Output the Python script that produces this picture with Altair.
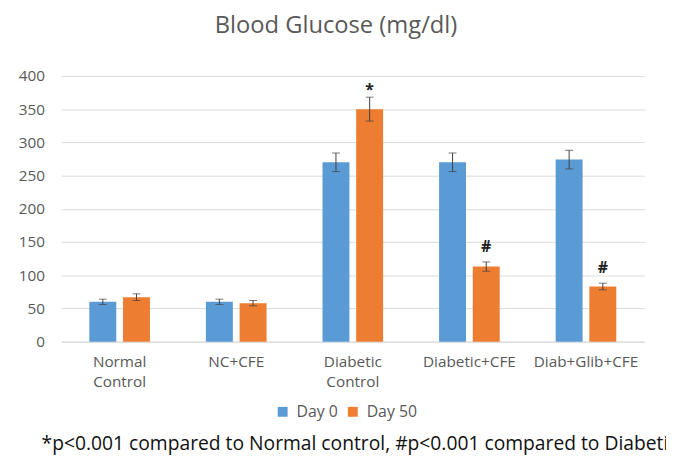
import altair as alt
import pandas as pd

groups = ["Normal\nControl", "NC+CFE", "Diabetic\nControl", "Diabetic+CFE", "Diab+Glib+CFE"]
day0 = [60, 60, 270, 270, 274]
day0_err = [4, 4, 14, 14, 14]
day50 = [67, 58, 350, 113, 83]
day50_err = [5, 4, 18, 7, 5]
marks50 = ["", "", "*", "#", "#"]
series = ["Day 0", "Day 50"]

rows = []
for i, g in enumerate(groups):
    rows.append(dict(group=g, series="Day 0", value=day0[i], err=day0_err[i], mark=""))
    rows.append(dict(group=g, series="Day 50", value=day50[i], err=day50_err[i], mark=marks50[i]))
df = pd.DataFrame(rows)
df["lo"] = df["value"] - df["err"]
df["hi"] = df["value"] + df["err"]

FONT = "Open Sans"
W, H = 590, 269
GRAY = "#595959"

x = alt.X("group:N", sort=groups, title=None,
          scale=alt.Scale(paddingInner=0.48, paddingOuter=0.24),
          axis=alt.Axis(labelExpr="split(datum.label, '\\n')", labelAngle=0,
                        labelPadding=13, ticks=False, domainColor="#d9d9d9", grid=False,
                        labelColor=GRAY, labelFontSize=15.5, labelFont=FONT,
                        labelLineHeight=20))
xo = alt.XOffset("series:N", sort=series, scale=alt.Scale(paddingInner=0.2))

yaxis = alt.Axis(values=list(range(0, 401, 50)), domain=False, ticks=False, grid=True,
                 gridColor="#d9d9d9", labelColor=GRAY, labelFontSize=15.5,
                 labelFont=FONT, labelPadding=17)
yscale = alt.Scale(domain=[0, 400])


def Y(field):
    return alt.Y(field, title=None, scale=yscale, axis=yaxis)


base = alt.Chart(df)

bars = base.mark_bar().encode(
    x=x, xOffset=xo, y=Y("value:Q"),
    color=alt.Color("series:N", sort=series,
                    scale=alt.Scale(domain=series, range=["#5B9BD5", "#ED7D31"]),
                    legend=alt.Legend(orient="none", legendX=216, legendY=332,
                                      direction="horizontal", title=None, symbolType="square",
                                      symbolSize=100, labelFont=FONT, labelFontSize=16,
                                      labelColor=GRAY, columnPadding=7,
                                      symbolStrokeWidth=0, labelOffset=6)),
)

errs = base.mark_rule(color="#404040", strokeWidth=1).encode(
    x=x, xOffset=xo, y=Y("lo:Q"), y2="hi:Q")
caps_hi = base.mark_tick(color="#404040", thickness=1, size=8).encode(
    x=x, xOffset=xo, y=Y("hi:Q"))
caps_lo = base.mark_tick(color="#404040", thickness=1, size=8).encode(
    x=x, xOffset=xo, y=Y("lo:Q"))

star = base.transform_filter("datum.mark == '*'").mark_text(
    baseline="alphabetic", dy=-2, fontSize=16, color="#222222", font=FONT, fontWeight="bold").encode(
    x=x, xOffset=xo, y=Y("hi:Q"), text="mark:N")
hashm = base.transform_filter("datum.mark == '#'").mark_text(
    baseline="alphabetic", dy=-10, fontSize=16, color="#222222", font=FONT, fontWeight="bold").encode(
    x=x, xOffset=xo, y=Y("hi:Q"), text="mark:N")

foot = alt.Chart(pd.DataFrame({"t": ["*p<0.001 compared to Normal control, #p<0.001 compared to Diabetic control"]})).mark_text(
    align="left", baseline="middle", fontSize=19.5, font=FONT, color="#111111").encode(
    x=alt.value(-20), y=alt.value(H + 104), text="t:N")

chart = alt.layer(bars, errs, caps_hi, caps_lo, star, hashm, foot).properties(
    width=W, height=H,
    autosize=alt.AutoSizeParams(type="none"),
    padding={"left": 54, "top": 66, "right": 22, "bottom": 114},
    title=alt.TitleParams("Blood Glucose (mg/dl)", font=FONT, fontSize=24,
                          fontWeight="normal", color=GRAY, offset=31, anchor="middle", dx=-17),
).configure_view(stroke=None)

chart.save("out.html", embed_options={"renderer": "svg", "actions": False})
